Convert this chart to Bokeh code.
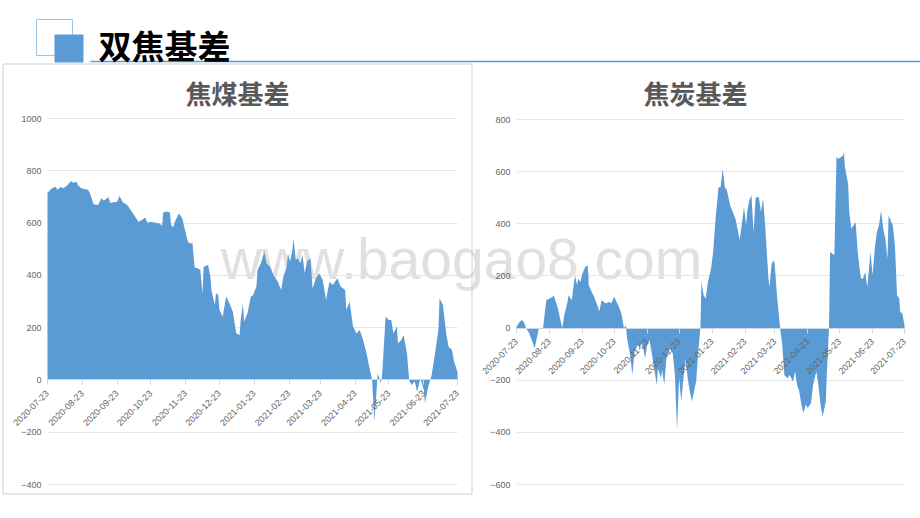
from math import pi
import pandas as pd
from bokeh.plotting import figure
from bokeh.models import (Label, FixedTicker, Range1d, DatetimeTickFormatter, Grid,
                          LinearAxis, DatetimeAxis)
from bokeh.embed import file_html
from bokeh.resources import INLINE

page_title = "双焦基差"
coal_title = "焦煤基差"
coke_title = "焦炭基差"
watermark = "www.baogao8.com"

tick_dates = ["2020-07-23", "2020-08-23", "2020-09-23", "2020-10-23", "2020-11-23",
              "2020-12-23", "2021-01-23", "2021-02-23", "2021-03-23", "2021-04-23",
              "2021-05-23", "2021-06-23", "2021-07-23"]
coal_yticks = [-400, -200, 0, 200, 400, 600, 800, 1000]
coke_yticks = [-600, -400, -200, 0, 200, 400, 600, 800]

coal_dates = [
    "2020-07-23", "2020-07-27", "2020-07-30", "2020-08-01", "2020-08-04", "2020-08-06", "2020-08-09",
    "2020-08-13", "2020-08-15", "2020-08-18", "2020-08-19", "2020-08-22", "2020-08-28", "2020-08-30",
    "2020-09-02", "2020-09-06", "2020-09-09", "2020-09-11", "2020-09-13", "2020-09-15", "2020-09-17",
    "2020-09-20", "2020-09-23", "2020-09-25", "2020-09-28", "2020-10-02", "2020-10-06", "2020-10-12",
    "2020-10-15", "2020-10-18", "2020-10-20", "2020-10-23", "2020-10-27", "2020-10-31", "2020-11-02",
    "2020-11-03", "2020-11-06", "2020-11-09", "2020-11-10", "2020-11-12", "2020-11-14", "2020-11-17",
    "2020-11-20", "2020-11-22", "2020-11-25", "2020-11-27", "2020-11-29", "2020-12-01", "2020-12-03",
    "2020-12-06", "2020-12-08", "2020-12-09", "2020-12-13", "2020-12-15", "2020-12-16", "2020-12-19",
    "2020-12-20", "2020-12-22", "2020-12-23", "2020-12-26", "2020-12-29", "2021-01-01", "2021-01-04",
    "2021-01-07", "2021-01-10", "2021-01-11", "2021-01-13", "2021-01-14", "2021-01-17", "2021-01-20",
    "2021-01-22", "2021-01-25", "2021-01-26", "2021-01-29", "2021-02-01", "2021-02-03", "2021-02-06",
    "2021-02-09", "2021-02-13", "2021-02-16", "2021-02-18", "2021-02-21", "2021-02-22", "2021-02-24",
    "2021-02-26", "2021-02-27", "2021-03-01", "2021-03-03", "2021-03-05", "2021-03-07", "2021-03-09",
    "2021-03-11", "2021-03-14", "2021-03-16", "2021-03-19", "2021-03-22", "2021-03-25", "2021-03-28",
    "2021-03-31", "2021-04-03", "2021-04-07", "2021-04-10", "2021-04-14", "2021-04-15", "2021-04-18",
    "2021-04-21", "2021-04-24", "2021-04-27", "2021-04-30", "2021-05-03", "2021-05-06", "2021-05-08",
    "2021-05-10", "2021-05-13", "2021-05-16", "2021-05-17", "2021-05-20", "2021-05-23", "2021-05-25",
    "2021-05-27", "2021-05-30", "2021-05-31", "2021-06-03", "2021-06-05", "2021-06-08", "2021-06-10",
    "2021-06-12", "2021-06-15", "2021-06-17", "2021-06-20", "2021-06-23", "2021-06-24", "2021-06-27",
    "2021-06-30", "2021-07-03", "2021-07-06", "2021-07-07", "2021-07-10", "2021-07-13", "2021-07-15",
    "2021-07-18", "2021-07-20", "2021-07-23"]
coal_values = [
    716, 733, 739, 727, 739, 733, 742,
    761, 754, 758, 746, 733, 727, 712,
    672, 669, 695, 686, 691, 700, 677,
    680, 682, 704, 680, 669, 644, 605,
    612, 621, 601, 605, 601, 598, 589,
    640, 644, 640, 593, 584, 612, 637,
    618, 580, 529, 522, 525, 430, 428,
    421, 332, 433, 440, 395, 341, 287,
    332, 325, 268, 242, 319, 293, 261,
    179, 172, 229, 293, 223, 255, 318,
    325, 357, 421, 446, 491, 446, 434,
    402, 376, 344, 395, 434, 484, 453,
    497, 542, 459, 465, 446, 478, 408,
    453, 465, 351, 389, 408, 382, 306,
    376, 363, 389, 357, 344, 268, 299,
    204, 178, 191, 153, 102, 38, 0,
    -159, 25, -13, 25, 242, 229, 229,
    178, 204, 140, 153, 172, 102, 0,
    -19, -6, -45, 6, -38, -89, -25,
    19, 102, 191, 312, 287, 178, 127,
    115, 70, 30]

coke_dates = [
    "2020-07-23", "2020-07-26", "2020-07-28", "2020-07-30", "2020-08-01", "2020-08-04", "2020-08-07",
    "2020-08-09", "2020-08-11", "2020-08-13", "2020-08-17", "2020-08-18", "2020-08-20", "2020-08-23",
    "2020-08-26", "2020-08-27", "2020-08-29", "2020-08-31", "2020-09-02", "2020-09-04", "2020-09-06",
    "2020-09-09", "2020-09-10", "2020-09-13", "2020-09-16", "2020-09-18", "2020-09-19", "2020-09-21",
    "2020-09-23", "2020-09-25", "2020-09-26", "2020-09-28", "2020-09-29", "2020-10-01", "2020-10-04",
    "2020-10-07", "2020-10-09", "2020-10-11", "2020-10-13", "2020-10-15", "2020-10-18", "2020-10-20",
    "2020-10-23", "2020-10-25", "2020-10-28", "2020-10-30", "2020-11-01", "2020-11-03", "2020-11-04",
    "2020-11-07", "2020-11-09", "2020-11-11", "2020-11-14", "2020-11-16", "2020-11-18", "2020-11-21",
    "2020-11-23", "2020-11-25", "2020-11-27", "2020-11-29", "2020-12-02", "2020-12-03", "2020-12-06",
    "2020-12-07", "2020-12-09", "2020-12-11", "2020-12-14", "2020-12-17", "2020-12-19", "2020-12-21",
    "2020-12-23", "2020-12-25", "2020-12-27", "2020-12-29", "2020-12-31", "2021-01-02", "2021-01-04",
    "2021-01-06", "2021-01-08", "2021-01-10", "2021-01-12", "2021-01-13", "2021-01-15", "2021-01-17",
    "2021-01-19", "2021-01-22", "2021-01-24", "2021-01-26", "2021-01-29", "2021-01-31", "2021-02-02",
    "2021-02-04", "2021-02-06", "2021-02-09", "2021-02-14", "2021-02-18", "2021-02-21", "2021-02-22",
    "2021-02-24", "2021-02-25", "2021-02-27", "2021-03-01", "2021-03-03", "2021-03-05", "2021-03-08",
    "2021-03-10", "2021-03-12", "2021-03-14", "2021-03-17", "2021-03-18", "2021-03-20", "2021-03-22",
    "2021-03-23", "2021-03-25", "2021-03-28", "2021-03-30", "2021-04-01", "2021-04-04", "2021-04-06",
    "2021-04-09", "2021-04-11", "2021-04-13", "2021-04-15", "2021-04-17", "2021-04-19", "2021-04-21",
    "2021-04-23", "2021-04-26", "2021-04-28", "2021-05-01", "2021-05-03", "2021-05-05", "2021-05-07",
    "2021-05-10", "2021-05-11", "2021-05-13", "2021-05-14", "2021-05-16", "2021-05-18", "2021-05-20",
    "2021-05-22", "2021-05-24", "2021-05-26", "2021-05-27", "2021-05-28", "2021-05-31", "2021-06-01",
    "2021-06-03", "2021-06-05", "2021-06-07", "2021-06-09", "2021-06-10", "2021-06-12", "2021-06-14",
    "2021-06-16", "2021-06-18", "2021-06-21", "2021-06-23", "2021-06-25", "2021-06-27", "2021-06-29",
    "2021-07-01", "2021-07-03", "2021-07-05", "2021-07-07", "2021-07-08", "2021-07-10", "2021-07-12",
    "2021-07-14", "2021-07-16", "2021-07-18", "2021-07-19", "2021-07-21", "2021-07-23"]
coke_values = [
    5, 24, 31, 22, 0, -20, -52,
    -78, -40, 0, 0, 37, 107, 113,
    120, 126, 101, 75, 37, 0, 50,
    101, 126, 107, 203, 164, 190, 177,
    209, 228, 238, 238, 164, 145, 120,
    88, 65, 107, 101, 94, 101, 94,
    120, 101, 75, 50, 0, 10, -40,
    -103, -180, -90, -65, -78, -52, -116,
    -65, -46, -90, -141, -218, -154, -192,
    -161, -218, -116, -78, -97, -180, -390,
    -192, -282, -192, -116, -192, -243, -282,
    -243, -205, -90, 0, 177, 126, 113,
    177, 228, 292, 407, 540, 540, 611,
    540, 528, 470, 419, 337, 432, 464,
    394, 445, 490, 509, 368, 502, 502,
    445, 496, 388, 190, 158, 247, 260,
    241, 126, 0, -65, -180, -192, -180,
    -205, -167, -218, -243, -294, -326, -294,
    -307, -288, -218, -167, -218, -294, -339,
    -282, -167, 0, 292, 286, 279, 655,
    649, 655, 662, 674, 617, 553, 445,
    381, 394, 407, 292, 254, 190, 190,
    215, 158, 292, 203, 305, 368, 394,
    451, 381, 343, 266, 432, 413, 394,
    317, 126, 113, 62, 56, 11]

AREA = "#5B9BD5"
FONT = "Liberation Sans"
CJK = "Noto Sans CJK SC"
W, H = 920, 517

T0_MS = pd.Timestamp(tick_dates[0]).value / 1e6
T1_MS = pd.Timestamp(tick_dates[-1]).value / 1e6
HAS_CROSS = "cross_bounds" in Grid.properties()


def x_range_for(px0, px1):
    per_px = (T1_MS - T0_MS) / (px1 - px0)
    return Range1d(start=T0_MS - px0 * per_px, end=T1_MS + (W - px1) * per_px)


def y_range_for(vmin, vmax, py_top, py_bot):
    per_px = (vmax - vmin) / (py_bot - py_top)
    return Range1d(start=vmin - (H - py_bot) * per_px, end=vmax + py_top * per_px)


p = figure(width=W, height=H,
           x_range=x_range_for(47, 457),
           y_range=y_range_for(coal_yticks[0], coal_yticks[-1], 118, 484),
           output_backend="svg", toolbar_location=None, min_border=0,
           x_axis_location=None, y_axis_location=None)
# drop the default grids; each chart gets its own below
p.center = [r for r in p.center if not isinstance(r, Grid)]
p.extra_x_ranges = {"coke_x": x_range_for(516, 904), "px": Range1d(0, W)}
p.extra_y_ranges = {"coke_y": y_range_for(coke_yticks[0], coke_yticks[-1], 119, 484),
                    "py": Range1d(H, 0)}
p.outline_line_color = None
p.background_fill_color = "white"
p.border_fill_color = "white"

# watermark (behind the data)
p.add_layout(Label(x=461, y=H - 258, x_units="screen", y_units="screen", text=watermark,
                   text_font=FONT, text_font_size="57px", text_color="#e0e0e0",
                   text_align="center", text_baseline="alphabetic", level="underlay"))

# header decoration
p.quad(left=36, right=72, top=19, bottom=55, fill_color=None, line_color="#9dc3e6",
       line_width=1, x_range_name="px", y_range_name="py")
p.quad(left=54, right=83, top=34, bottom=62, fill_color=AREA, line_color=None,
       x_range_name="px", y_range_name="py")
p.segment(x0=90, y0=61, x1=W, y1=61, line_color=AREA, line_width=1.5,
          x_range_name="px", y_range_name="py")
p.add_layout(Label(x=98, y=H - 44, x_units="screen", y_units="screen", text=page_title,
                   text_font=CJK, text_font_size="33px", text_font_style="bold",
                   text_color="#000000", text_baseline="middle"))

# frame around the left chart
p.quad(left=2.5, right=471.5, top=63.5, bottom=493.5, fill_color=None, line_color="#cfcfcf",
       line_width=1, x_range_name="px", y_range_name="py")

fmt = "%Y-%m-%d"


def add_chart(title, title_x, dates, values, yticks, xr_name, yr_name):
    names = {}
    if xr_name:
        names["x_range_name"] = xr_name
    if yr_name:
        names["y_range_name"] = yr_name

    if HAS_CROSS:
        g = Grid(dimension=1, ticker=FixedTicker(ticks=yticks), grid_line_color="#e6e6e6",
                 grid_line_width=1, cross_bounds=(T0_MS, T1_MS), **names)
        p.add_layout(g)
    else:
        p.segment(x0=[T0_MS] * len(yticks), y0=yticks, x1=[T1_MS] * len(yticks), y1=yticks,
                  line_color="#e6e6e6", line_width=1, **names)

    p.varea(x=pd.to_datetime(dates), y1=0, y2=values, fill_color=AREA, fill_alpha=1.0, **names)

    ya = LinearAxis(fixed_location=T0_MS, ticker=FixedTicker(ticks=yticks),
                    axis_line_color=None, major_tick_line_color=None,
                    major_tick_in=0, major_tick_out=0, minor_tick_line_color=None,
                    major_label_text_font=FONT, major_label_text_font_size="9px",
                    major_label_text_color="#666666", major_label_standoff=6, **names)
    p.add_layout(ya, "left")

    xa = DatetimeAxis(fixed_location=0, bounds=(T0_MS, T1_MS),
                      ticker=FixedTicker(ticks=[pd.Timestamp(d).value / 1e6 for d in tick_dates]),
                      formatter=DatetimeTickFormatter(days=fmt, months=fmt, years=fmt, hours=fmt,
                                                      hourmin=fmt, minutes=fmt, minsec=fmt,
                                                      seconds=fmt, milliseconds=fmt,
                                                      microseconds=fmt),
                      axis_line_color="#ccd6eb", major_tick_line_color="#ccd6eb",
                      major_tick_in=0, major_tick_out=5, minor_tick_line_color=None,
                      major_label_orientation=pi / 4, major_label_text_font=FONT,
                      major_label_text_font_size="9px", major_label_text_color="#666666",
                      major_label_standoff=7, **names)
    p.add_layout(xa, "below")

    p.add_layout(Label(x=title_x, y=H - 92, x_units="screen", y_units="screen", text=title,
                       text_font=CJK, text_font_size="26px", text_font_style="bold",
                       text_color="#595959", text_align="center", text_baseline="middle"))


add_chart(coal_title, 237, coal_dates, coal_values, coal_yticks, None, None)
add_chart(coke_title, 695, coke_dates, coke_values, coke_yticks, "coke_x", "coke_y")

open("out.html", "w").write(file_html(p, INLINE))
